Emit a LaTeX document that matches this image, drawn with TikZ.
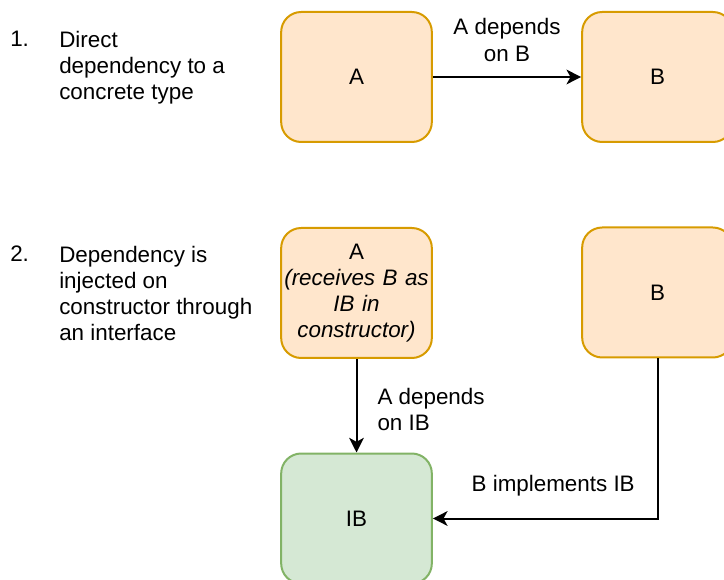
\documentclass[tikz,border=0pt]{standalone}
\usepackage{fontspec}
\setmainfont{Liberation Sans}
\usetikzlibrary{arrows.meta,positioning}

\definecolor{boxfill}{HTML}{FFE6CC}
\definecolor{boxline}{HTML}{D79B00}
\definecolor{ifcfill}{HTML}{D5E8D4}
\definecolor{ifcline}{HTML}{82B366}

\begin{document}
\begin{tikzpicture}[
  x=0.75pt, y=-0.75pt,
  font=\fontsize{16.8}{19.6}\selectfont,
  block/.style={draw=boxline, fill=boxfill, rounded corners=15pt, line width=1.5pt,
    align=center, minimum width=113pt, minimum height=97.5pt, text width=112pt, inner sep=0pt},
  iface/.style={block, draw=ifcline, fill=ifcfill},
  note/.style={align=left, anchor=north west, inner sep=0pt},
  dep/.style={-{Stealth[length=11pt, width=11pt, inset=3pt]}, line width=1.5pt}
]
\useasboundingbox (0,0) rectangle (724,580);

% case 1: concrete dependency
\node[note] (num1) at (10,31) {1.};
\node[note] (txt1) at (59,31) {Direct\\dependency to a\\concrete type};
\node[block] (a1) at (356.5,77) {A};
\node[block] (b1) at (657.5,77) {B};
\draw[dep] (a1) -- node[above=11pt, inner sep=0pt, align=center] {A depends\\on B} (b1);

% case 2: injected through an interface
\node[note] (num2) at (10,246) {2.};
\node[note] (txt2) at (59,246) {Dependency is\\injected on\\constructor through\\an interface};
\node[block] (a2) at (356.5,293) {A\\\textit{(receives B as}\\\textit{IB in}\\\textit{constructor)}};
\node[block] (b2) at (657.5,292.5) {B};
\node[iface] (ib) at (356.5,518.5) {IB};
\draw[dep] (a2) -- node[right=15pt, inner sep=0pt, align=left, yshift=-3pt] {A depends\\on IB} (ib);
\draw[dep] (b2) |- node[pos=0.75, above=16pt, inner sep=0pt, xshift=6pt] {B implements IB} (ib);
\end{tikzpicture}
\end{document}
